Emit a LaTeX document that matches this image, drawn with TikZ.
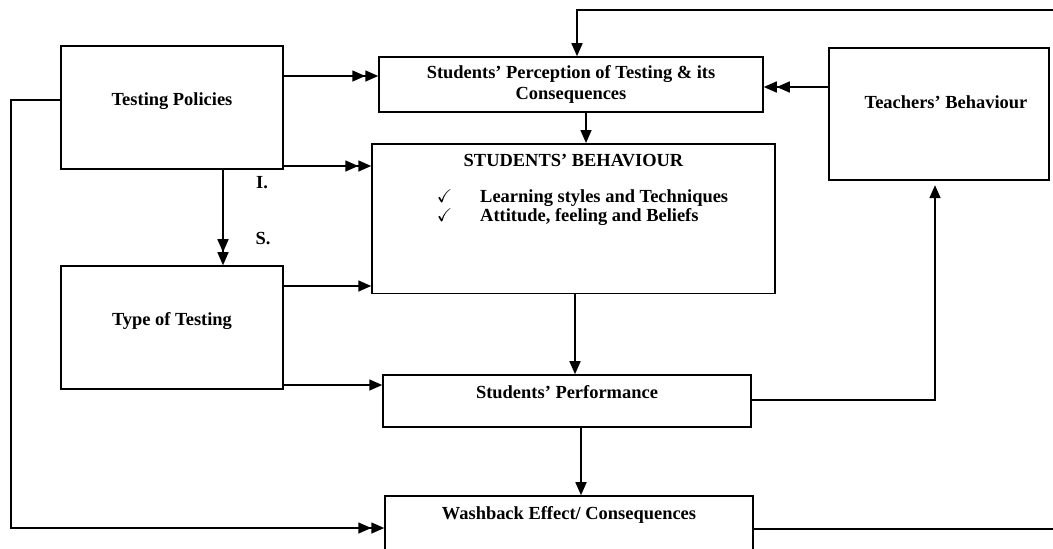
\documentclass[tikz,border=0pt]{standalone}
\usepackage{amssymb}
\usepackage{fontspec}
\setmainfont{Liberation Serif}
\usetikzlibrary{arrows.meta}

\begin{document}
\begin{tikzpicture}[x=0.02cm, y=-0.02cm]
        \tikzset{box/.style = {draw, line width=0.9pt, align=center, inner sep=2pt,
            font=\bfseries\fontsize{10.5}{11.5}\selectfont}}
        \tikzset{lbl/.style = {font=\bfseries\fontsize{10.5}{11.5}\selectfont}}
        \tikzset{edge/.style = {-, line width=0.9pt, > = {Triangle[length=2.6mm, width=2.2mm]}}}
        \clip (0,0) rectangle (1053,548);

        \node[box, minimum width=4.44cm, minimum height=2.46cm, text height=7.5pt, text depth=10.3pt] (tp) at (172,107.5) {Testing Policies};
        \node[box, minimum width=4.44cm, minimum height=2.46cm, text height=7.5pt, text depth=10.3pt] (tot) at (172,327.5) {Type of Testing};
        \node[box, minimum width=7.68cm, minimum height=1.1cm] (perc) at (571,84.5) {Students' Perception of Testing \& its\\Consequences};
        \node[box, minimum width=4.4cm, minimum height=2.64cm, text height=7.5pt, text depth=14.3pt] (tb) at (939,114) {\hspace*{0.28cm}Teachers' Behaviour};
        \node[box, minimum width=8.06cm, inner ysep=6pt, anchor=north] (sb) at (573.5,143) {STUDENTS' BEHAVIOUR\\[9pt]
            \hspace*{0.36cm}\def\arraystretch{0.92}\begin{tabular}[t]{@{}l@{\hspace{0.56cm}}l@{}}
            $\checkmark$ & Learning styles and Techniques\\
            $\checkmark$ & Attitude, feeling and Beliefs
            \end{tabular}\rule[-1.61cm]{0pt}{0pt}};
        \node[box, minimum width=7.36cm, minimum height=1.04cm, text height=7.5pt, text depth=10.9pt] (perf) at (567,401) {Students' Performance};
        \node[box, minimum width=7.36cm, minimum height=1.4cm, text height=7.5pt, text depth=20.1pt] (wb) at (569,531) {Washback Effect/ Consequences};

        \node[lbl] (labI) at (262,183) {I.};
        \node[lbl] (labS) at (263,239) {S.};

        \coordinate (topEnd) at (1060,10);
        \coordinate (botEnd) at (1060,529);

        \draw[edge,->>] (tp.east |- 0,76) to (perc.west |- 0,76);
        \draw[edge,->>] (tp.east |- 0,166) to (sb.west |- 0,166);
        \draw[edge,->>] (tp.south -| 223,0) to (tot.north -| 223,0);
        \draw[edge,->] (tot.east |- 0,286) to (sb.west |- 0,286);
        \draw[edge,->] (tot.east |- 0,385) to (perf.west |- 0,385);
        \draw[edge,->>] (tp.west |- 0,100) -- (11,100) |- (wb.west |- 0,528);
        \draw[edge,->] (perc.south -| 586,0) to (sb.north -| 586,0);
        \draw[edge,->>] (tb.west |- 0,87) to (perc.east |- 0,87);
        \draw[edge,->] (topEnd) -| (perc.north -| 577,0);
        \draw[edge,->] (sb.south -| 575,0) to (perf.north -| 575,0);
        \draw[edge,->,shorten >=2.5pt] (perf.east |- 0,400) -| (tb.south -| 935,0);
        \draw[edge,->] (perf.south -| 581,0) to (wb.north -| 581,0);
        \draw[edge] (wb.east |- 0,529) to (botEnd);
      \end{tikzpicture}
\end{document}
